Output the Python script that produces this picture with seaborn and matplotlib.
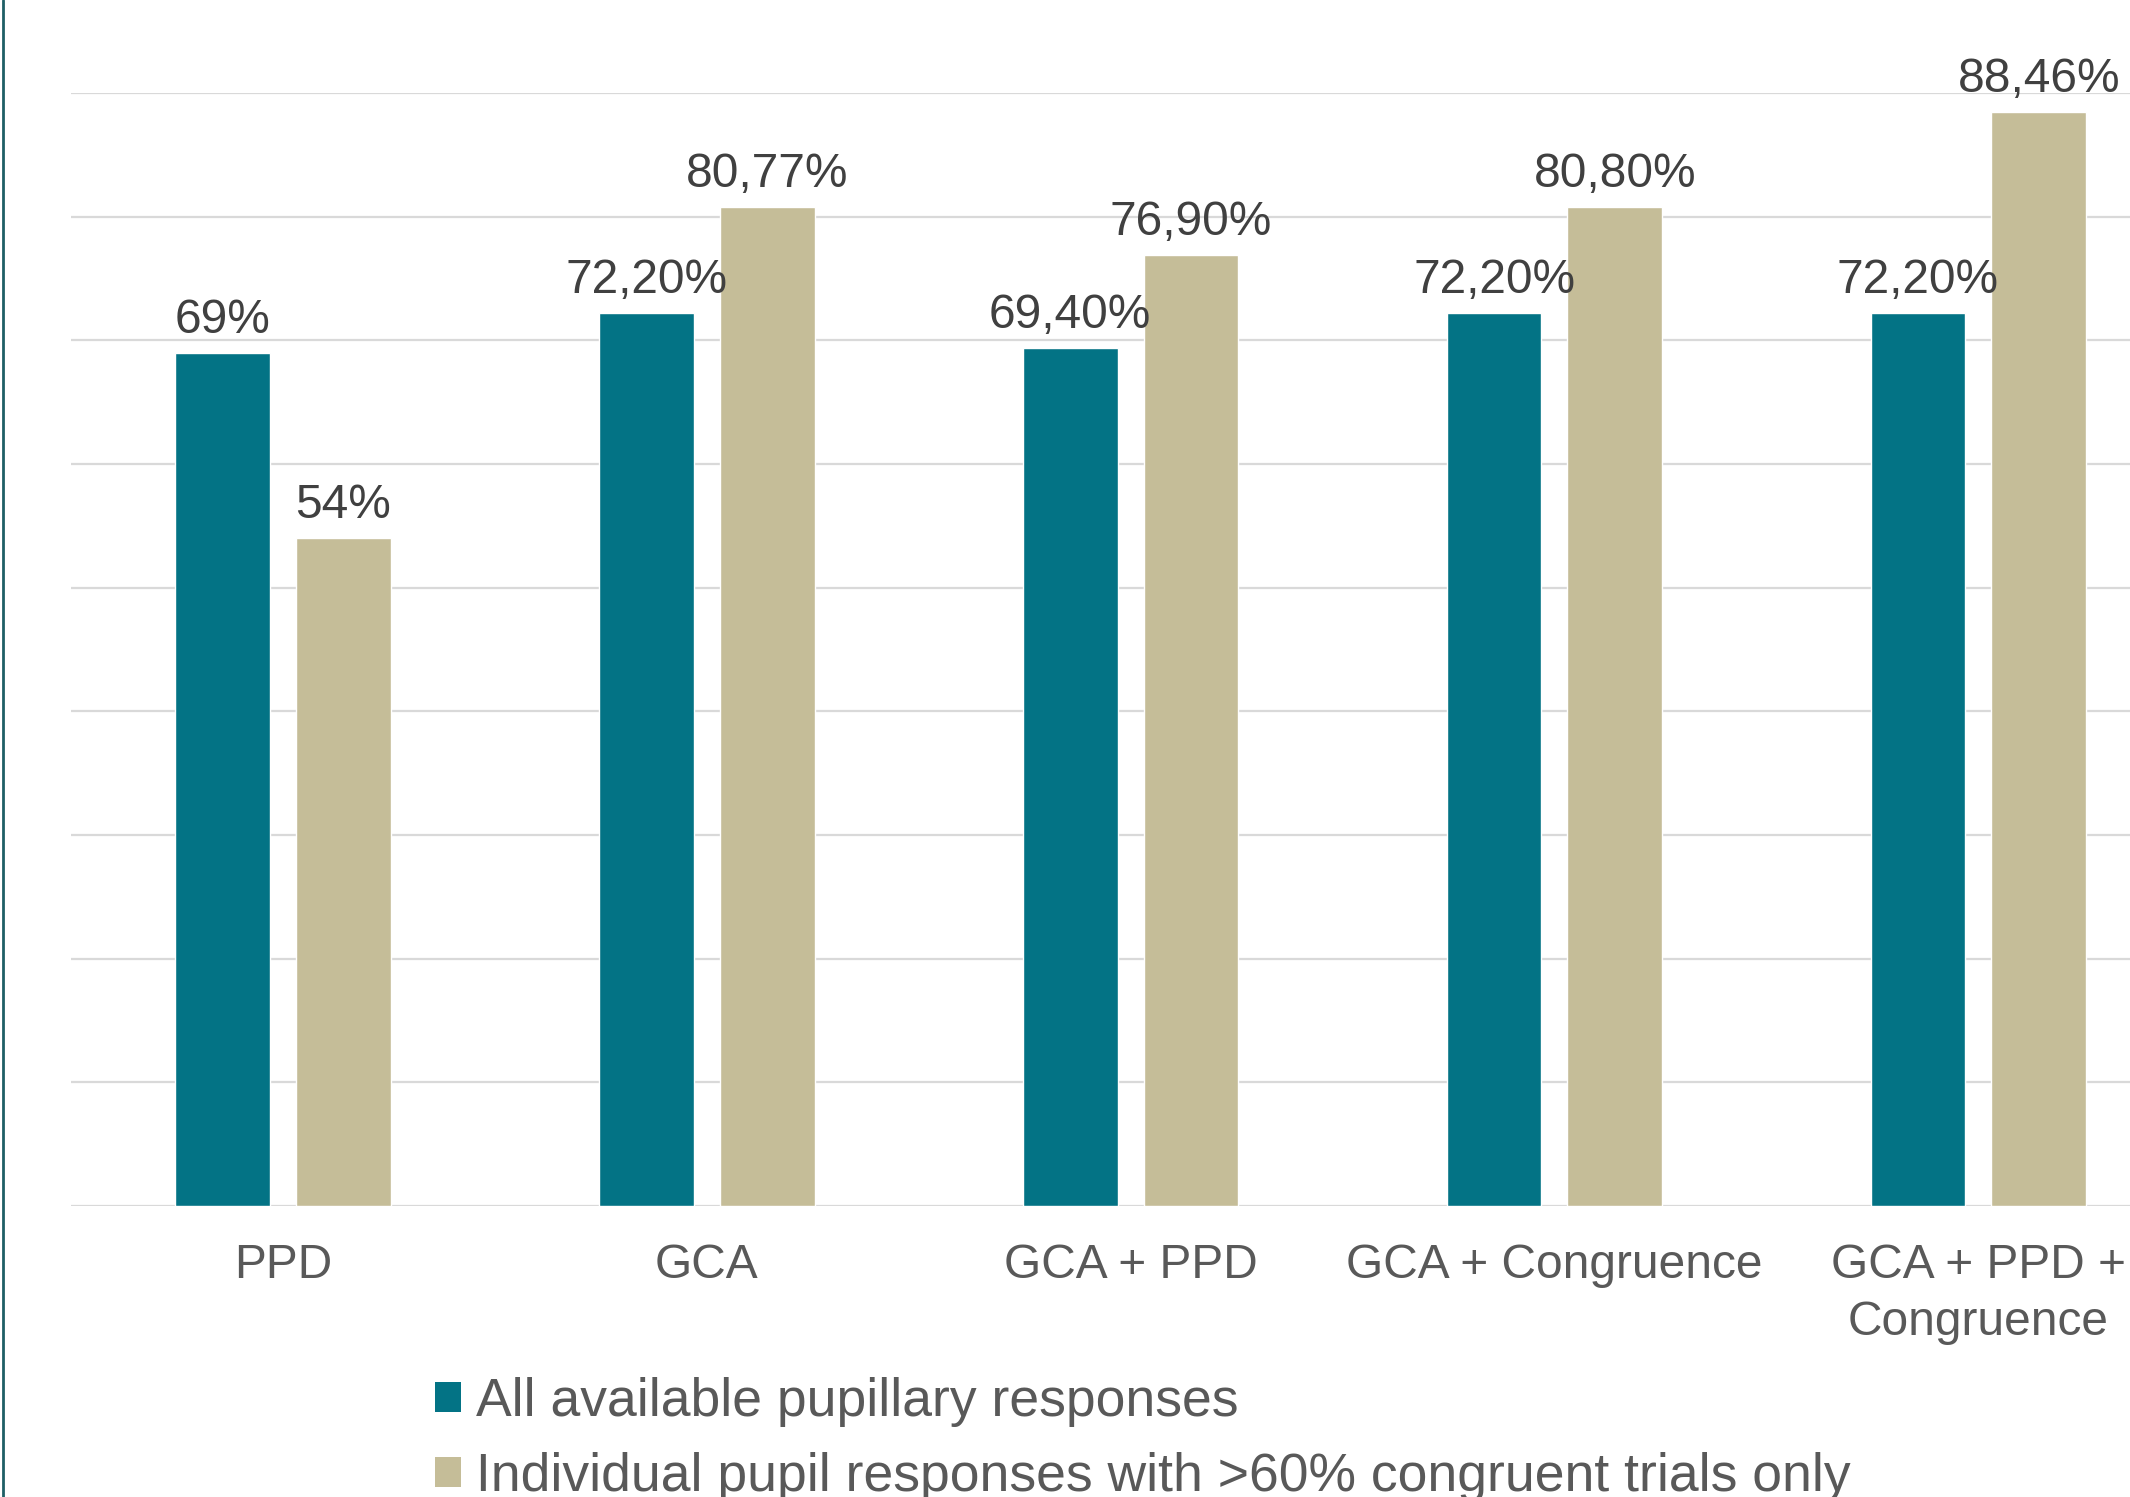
import matplotlib
matplotlib.use("Agg")
import matplotlib.pyplot as plt
from matplotlib.lines import Line2D
from matplotlib.patches import Rectangle
import seaborn as sns
import pandas as pd

# Classification accuracy per feature set
categories = ["PPD", "GCA", "GCA + PPD", "GCA + Congruence", "GCA + PPD +\nCongruence"]
all_responses = [69, 72.2, 69.4, 72.2, 72.2]
congruent_only = [54, 80.77, 76.9, 80.8, 88.46]
series_names = ["All available pupillary responses",
                "Individual pupil responses with >60% congruent trials only"]
series_colors = ["#037385", "#C5BD98"]

df = pd.DataFrame({
    "category": categories * 2,
    "value": all_responses + congruent_only,
    "series": [series_names[0]] * len(categories) + [series_names[1]] * len(categories),
})

sns.set_theme(style="white")
plt.rcParams["font.family"] = ["Liberation Sans", "DejaVu Sans"]

fig = plt.figure(figsize=(21.30, 14.97), dpi=100)
ax = fig.add_axes([0.0333, 0.1944, 0.995, 0.7435])

sns.barplot(data=df, x="category", y="value", hue="series", order=categories,
            hue_order=series_names, palette=series_colors, width=0.57, gap=0.215,
            saturation=1, ax=ax, legend=False, zorder=3)

ax.set_ylim(0, 90)
ax.set_xlim(-0.5, 4.5)
ax.set_yticks(range(0, 91, 10))
ax.yaxis.grid(True, color="#D9D9D9", linewidth=1.6, zorder=0)
ax.set_yticklabels([])
ax.tick_params(axis="y", length=0)
ax.tick_params(axis="x", length=0, pad=27, labelsize=34.5, labelcolor="#595959")
for lbl in ax.get_xticklabels():
    lbl.set_linespacing(1.32)
ax.set_xlabel("")
ax.set_ylabel("")
for s in ax.spines.values():
    s.set_visible(False)


def fmt(v):
    if float(v).is_integer():
        return f"{v:.0f}%"
    return f"{v:.2f}%".replace(".", ",")


for container, vals in zip(ax.containers, [all_responses, congruent_only]):
    ax.bar_label(container, labels=[fmt(v) for v in vals], padding=7,
                 fontsize=34.5, color="#404040", clip_on=False)

# Left border of the chart frame
fig.add_artist(Line2D([0.0016, 0.0016], [0, 1], transform=fig.transFigure,
                      color="#1F5F66", linewidth=2))

handles = [Rectangle((0, 0), 1, 1, facecolor=c, edgecolor="none") for c in series_colors]
fig.legend(handles, series_names, loc="upper left", bbox_to_anchor=(0.204, 0.080),
           frameon=False, fontsize=38.5, labelcolor="#595959", handlelength=0.5,
           handleheight=0.5, handletextpad=0.28, labelspacing=0.46, borderpad=0,
           borderaxespad=0)

fig.savefig("out.png", dpi=100)
